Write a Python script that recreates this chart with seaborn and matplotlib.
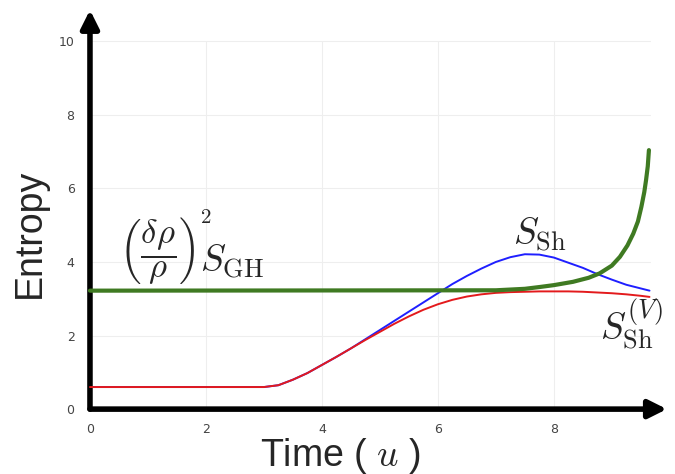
import pandas as pd
import seaborn as sns
import matplotlib.pyplot as plt

# time axis samples and the three entropy curves
t_sh = [0.0, 3.0, 3.25, 3.5, 3.75, 4.0, 4.25, 4.5, 4.75, 5.0, 5.25, 5.5, 5.75,
        6.0, 6.25, 6.5, 6.75, 7.0, 7.25, 7.5, 7.75, 8.0, 8.25, 8.5, 8.75,
        9.0, 9.25, 9.5, 9.65]
s_sh = [0.6, 0.6, 0.65, 0.8, 0.98, 1.2, 1.42, 1.65, 1.9, 2.15, 2.4, 2.65, 2.9,
        3.15, 3.4, 3.62, 3.82, 4.0, 4.13, 4.21, 4.2, 4.12, 3.98, 3.84, 3.67,
        3.52, 3.38, 3.28, 3.22]
s_sh_v = [0.6, 0.6, 0.65, 0.8, 0.98, 1.2, 1.42, 1.65, 1.88, 2.1, 2.32, 2.52, 2.7,
          2.85, 2.97, 3.06, 3.12, 3.16, 3.18, 3.19, 3.2, 3.2, 3.2, 3.19, 3.17,
          3.15, 3.12, 3.08, 3.05]

t_gh = [0.0, 7.0, 7.5, 7.76, 8.0, 8.33, 8.6, 8.79, 9.0, 9.14, 9.27, 9.37,
        9.45, 9.51, 9.56, 9.59, 9.62, 9.64]
s_gh = [3.22, 3.23, 3.27, 3.32, 3.37, 3.46, 3.57, 3.69, 3.9, 4.14, 4.45, 4.77,
        5.1, 5.5, 5.9, 6.22, 6.6, 7.04]

x_ticks = [0, 2, 4, 6, 8]
y_ticks = [0, 2, 4, 6, 8, 10]

df_sh = pd.DataFrame({"t": t_sh, "S_Sh": s_sh, "S_Sh_V": s_sh_v})
df_gh = pd.DataFrame({"t": t_gh, "S_GH": s_gh})

sns.set_theme(style="white")
plt.rcParams["mathtext.fontset"] = "cm"

fig = plt.figure(figsize=(6.75, 4.74), dpi=100)
ax = fig.add_axes([0.129, 0.133, 0.859, 0.846])

# faint grid limited to the data region
for yv in y_ticks:
    ax.plot([0, 9.65], [yv, yv], color="#eeeeee", lw=0.8, zorder=0)
for xv in x_ticks:
    ax.plot([xv, xv], [0, 10], color="#eeeeee", lw=0.8, zorder=0)

sns.lineplot(data=df_sh, x="t", y="S_Sh", color="#1f1fff", lw=1.4, ax=ax, zorder=3)
sns.lineplot(data=df_sh, x="t", y="S_Sh_V", color="#e31a1c", lw=1.4, ax=ax, zorder=4)
sns.lineplot(data=df_gh, x="t", y="S_GH", color="#3f7a22", lw=3.0, ax=ax, zorder=5)

ax.set_xlim(-0.05, 9.95)
ax.set_ylim(-0.05, 10.85)
ax.set_xticks(x_ticks)
ax.set_yticks(y_ticks)
ax.tick_params(length=0, labelsize=9, labelcolor="#444444")
ax.tick_params(axis="x", pad=9)
ax.tick_params(axis="y", pad=9)
ax.set_xlabel("")
ax.set_ylabel("")
for sp in ax.spines.values():
    sp.set_visible(False)

# arrow axes
arrow = dict(arrowstyle="-|>,head_length=0.9,head_width=0.45", lw=4,
             color="black", shrinkA=0, shrinkB=0)
ax.annotate("", xy=(9.95, 0), xytext=(0, 0), arrowprops=arrow, annotation_clip=False)
ax.annotate("", xy=(0, 10.85), xytext=(0, 0), arrowprops=arrow, annotation_clip=False)

# curve labels (the GH label is set in pieces so the square sits high)
ax.text(0.5, 4.32, r"$\left(\dfrac{\delta\rho}{\rho}\right)$",
        fontsize=25, ha="left", va="center")
ax.text(2.0, 5.22, r"$2$", fontsize=15, ha="center", va="center")
ax.text(1.9, 3.72, r"$S_{\rm GH}$", fontsize=27, ha="left", va="baseline")
ax.text(7.76, 4.75, r"$S_{\rm Sh}$", fontsize=27, ha="center", va="center")
ax.text(9.33, 2.3, r"$S_{\rm Sh}^{(V)}$", fontsize=27, ha="center", va="center")

fig.text(0.044, 0.508, "Entropy", rotation=90, fontsize=27,
         family="Liberation Sans", ha="center", va="center")
fig.text(0.504, 0.038, "Time ( $u$ )", fontsize=27,
         family="Liberation Sans", ha="center", va="center")

fig.savefig("out.png", dpi=100)
